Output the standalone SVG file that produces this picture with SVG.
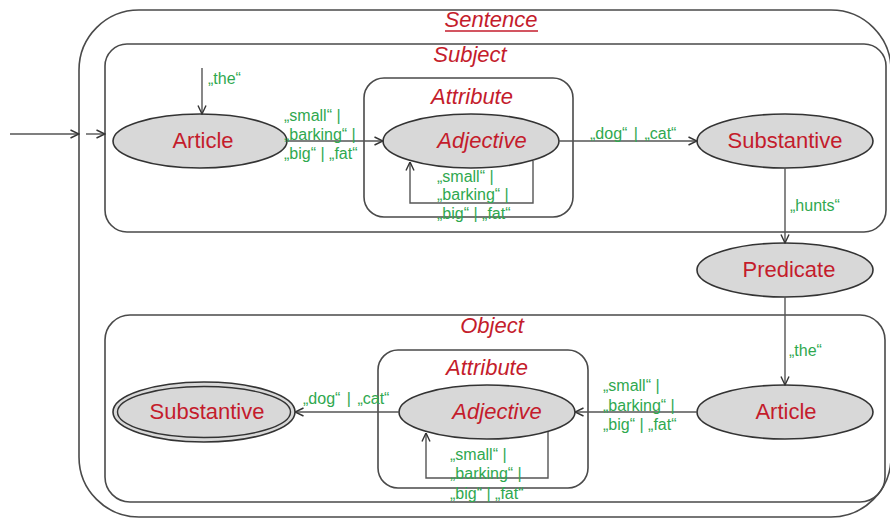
<svg xmlns="http://www.w3.org/2000/svg" width="890" height="519" viewBox="0 0 890 519">
  <style>
    .box { fill: none; stroke: #4a4a4a; stroke-width: 1.6; }
    .state { fill: #d8d8d8; stroke: #333; stroke-width: 1.6; }
    .name { font-family: "Liberation Sans", Arial, sans-serif; font-size: 22px; fill: #c41c2c; text-anchor: middle; }
    .it { font-style: italic; }
    .lbl { font-family: "Liberation Sans", Arial, sans-serif; font-size: 16px; fill: #2fa84f; }
    .edge { fill: none; stroke: #555; stroke-width: 1.4; }
  </style>
  <defs>
    <marker id="arrow" viewBox="0 0 10 10" refX="9.5" refY="5" markerWidth="10" markerHeight="10" markerUnits="userSpaceOnUse" orient="auto">
      <path d="M1,1 L9.5,5 L1,9" fill="none" stroke="#333" stroke-width="1.4"/>
    </marker>
  </defs>
  <rect width="890" height="519" fill="#ffffff"/>

  <!-- containers -->
  <g id="sentence">
    <rect class="box" x="79" y="10" width="812" height="507" rx="60" ry="60"/>
    <text class="name it" x="491" y="27">Sentence</text>
    <line x1="445" y1="31" x2="538" y2="31" stroke="#c41c2c" stroke-width="1.4"/>
  </g>
  <g id="subject">
    <rect class="box" x="105" y="44" width="781" height="188" rx="22" ry="22"/>
    <text class="name it" x="470" y="62">Subject</text>
  </g>
  <g id="subject-attribute">
    <rect class="box" x="364" y="78" width="209" height="139" rx="20" ry="20"/>
    <text class="name it" x="472" y="104">Attribute</text>
  </g>
  <g id="object">
    <rect class="box" x="105" y="315" width="780" height="187" rx="25" ry="25"/>
    <text class="name it" x="492" y="333">Object</text>
  </g>
  <g id="object-attribute">
    <rect class="box" x="378" y="350" width="210" height="138" rx="20" ry="20"/>
    <text class="name it" x="487" y="375">Attribute</text>
  </g>

  <!-- states -->
  <g id="article-1">
    <ellipse class="state" cx="200" cy="141" rx="87" ry="27"/>
    <text class="name" x="203" y="148">Article</text>
  </g>
  <g id="adjective-1">
    <ellipse class="state" cx="471" cy="141" rx="88" ry="27"/>
    <text class="name it" x="482" y="148">Adjective</text>
  </g>
  <g id="substantive-1">
    <ellipse class="state" cx="785" cy="141" rx="88" ry="27"/>
    <text class="name" x="785" y="148">Substantive</text>
  </g>
  <g id="predicate">
    <ellipse class="state" cx="785" cy="270" rx="88" ry="27"/>
    <text class="name" x="789" y="277">Predicate</text>
  </g>
  <g id="article-2">
    <ellipse class="state" cx="785" cy="412" rx="88" ry="27"/>
    <text class="name" x="786" y="419">Article</text>
  </g>
  <g id="adjective-2">
    <ellipse class="state" cx="487" cy="412" rx="88" ry="27"/>
    <text class="name it" x="497" y="419">Adjective</text>
  </g>
  <g id="substantive-2">
    <ellipse class="state" cx="204" cy="412" rx="91" ry="30"/>
    <ellipse fill="none" stroke="#333" stroke-width="1.4" cx="204" cy="412" rx="86.5" ry="25.5"/>
    <text class="name" x="207" y="419">Substantive</text>
  </g>

  <!-- transitions -->
  <g id="connectors">
    <line class="edge" x1="10" y1="134" x2="79" y2="134" marker-end="url(#arrow)"/>
    <line class="edge" x1="86" y1="134" x2="105" y2="134" marker-end="url(#arrow)"/>
    <line class="edge" x1="202" y1="68" x2="202" y2="114" marker-end="url(#arrow)"/>
    <line class="edge" x1="287" y1="141" x2="383" y2="141" marker-end="url(#arrow)"/>
    <path class="edge" d="M533,161 V203 H410 V162" marker-end="url(#arrow)"/>
    <line class="edge" x1="559" y1="141" x2="697" y2="141" marker-end="url(#arrow)"/>
    <line class="edge" x1="785" y1="168" x2="785" y2="243" marker-end="url(#arrow)"/>
    <line class="edge" x1="785" y1="297" x2="785" y2="385" marker-end="url(#arrow)"/>
    <line class="edge" x1="697" y1="412" x2="575" y2="412" marker-end="url(#arrow)"/>
    <path class="edge" d="M548,432 V478 H426 V433" marker-end="url(#arrow)"/>
    <line class="edge" x1="399" y1="412" x2="295" y2="412" marker-end="url(#arrow)"/>

    <text class="lbl" x="208" y="84">„the“</text>
    <text class="lbl" x="284" y="121">„small“ |</text>
    <text class="lbl" x="284" y="140">„barking“ |</text>
    <text class="lbl" x="284" y="159">„big“ | „fat“</text>
    <text class="lbl" x="437" y="182">„small“ |</text>
    <text class="lbl" x="437" y="200">„barking“ |</text>
    <text class="lbl" x="437" y="219">„big“ | „fat“</text>
    <text class="lbl" x="590" y="139" word-spacing="2">„dog“ | „cat“</text>
    <text class="lbl" x="790" y="211">„hunts“</text>
    <text class="lbl" x="789" y="356">„the“</text>
    <text class="lbl" x="603" y="391">„small“ |</text>
    <text class="lbl" x="603" y="411">„barking“ |</text>
    <text class="lbl" x="603" y="430">„big“ | „fat“</text>
    <text class="lbl" x="450" y="460">„small“ |</text>
    <text class="lbl" x="450" y="479">„barking“ |</text>
    <text class="lbl" x="450" y="499">„big“ | „fat“</text>
    <text class="lbl" x="303" y="404" word-spacing="2">„dog“ | „cat“</text>
  </g>
</svg>
